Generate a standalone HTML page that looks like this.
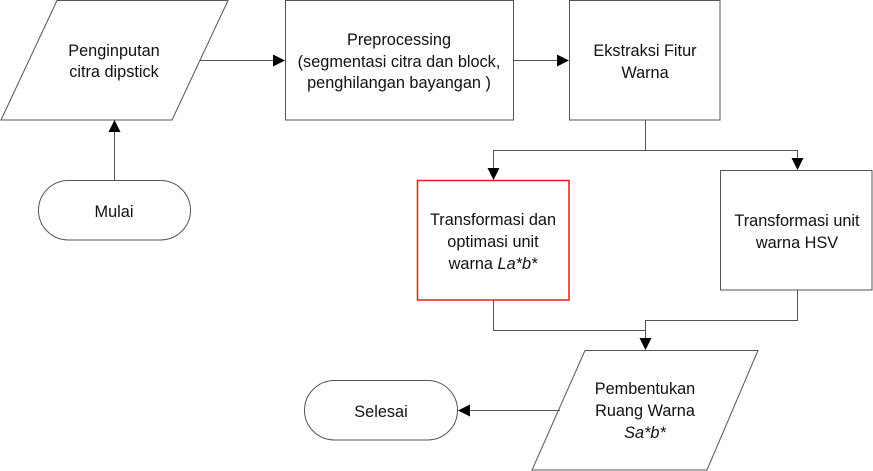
<!DOCTYPE html>
<html><head><meta charset="utf-8"><style>
html,body{margin:0;padding:0;background:#fff;}
svg{display:block;}
text{font-family:"Liberation Sans",Arial,sans-serif;font-size:16.3px;fill:#111;text-anchor:middle;}
</style></head><body>
<svg width="873" height="471" viewBox="0 0 873 471" xmlns="http://www.w3.org/2000/svg">
<defs>
<marker id="a" markerWidth="12" markerHeight="12" refX="11" refY="6" orient="auto" markerUnits="userSpaceOnUse">
<path d="M0,0 L12,6 L0,12 z" fill="#000"/></marker>
</defs>
<g fill="none" stroke="#555" stroke-width="1">
<polygon points="57,0.5 228,0.5 172,120 1,120" fill="#fff"/>
<rect x="285.5" y="0.5" width="228" height="119.5" fill="#fff"/>
<rect x="569.5" y="0.5" width="150.5" height="119.5" fill="#fff"/>
<rect x="720.5" y="170.5" width="151.5" height="119.5" fill="#fff"/>
<rect x="38.5" y="180.5" width="152" height="59.5" rx="30" fill="#fff"/>
<rect x="304.5" y="380.5" width="153" height="59.5" rx="30" fill="#fff"/>
<polygon points="585,350.5 758,350.5 707,470 532,470" fill="#fff"/>
<path d="M200,60.5 H284" marker-end="url(#a)"/>
<path d="M513,60.5 H568" marker-end="url(#a)"/>
<path d="M114.5,180 V121" marker-end="url(#a)"/>
<path d="M645.5,120 V150.5 H493.5 V179" marker-end="url(#a)"/>
<path d="M645.5,150.5 H797.5 V169" marker-end="url(#a)"/>
<path d="M493.5,300 V330.5 H645.5"/>
<path d="M797.5,290 V320.5 H645.5 V349" marker-end="url(#a)"/>
<path d="M560,410.5 H459" marker-end="url(#a)"/>
</g>
<rect x="417.5" y="180.5" width="151.5" height="119.5" fill="#fff" stroke="#e02020" stroke-width="1.5"/>
<text x="114" y="56">Penginputan</text>
<text x="114" y="77">citra dipstick</text>
<text x="399" y="45">Preprocessing</text>
<text x="399" y="67">(segmentasi citra dan block,</text>
<text x="399" y="88">penghilangan bayangan )</text>
<text x="645" y="56">Ekstraksi Fitur</text>
<text x="645" y="78">Warna</text>
<text x="114" y="217">Mulai</text>
<text x="493" y="225">Transformasi dan</text>
<text x="493" y="247">optimasi unit</text>
<text x="493" y="269">warna <tspan font-style="italic">La*b*</tspan></text>
<text x="797" y="226">Transformasi unit</text>
<text x="797" y="248">warna HSV</text>
<text x="645" y="394">Pembentukan</text>
<text x="645" y="416">Ruang Warna</text>
<text x="645" y="438" font-style="italic">Sa*b*</text>
<text x="381" y="417">Selesai</text>
</svg>
</body></html>
